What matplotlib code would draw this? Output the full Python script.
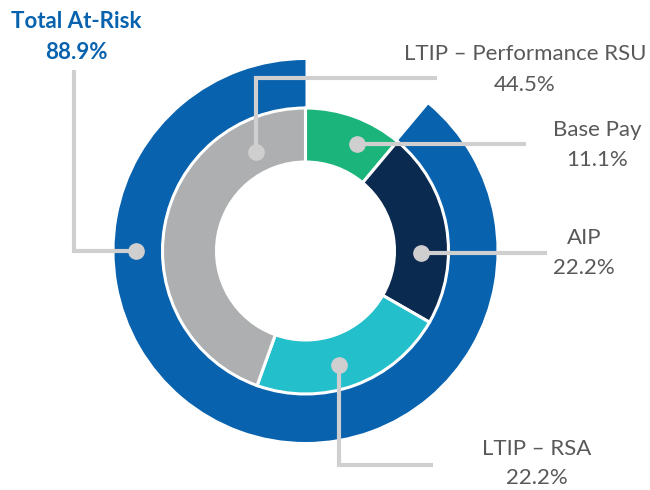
import matplotlib.pyplot as plt
import numpy as np

# data
slices = ['Base Pay', 'AIP', 'LTIP \u2013 RSA', 'LTIP \u2013 Performance RSU']
shares = [11.1, 22.2, 22.2, 44.5]
at_risk_name = 'Total At-Risk'
at_risk = 88.9

inner_colors = ['#1bb47b', '#0b2a50', '#23bfcb', '#aeafb0']
outer_color = '#0862ae'
line_col = '#cfcfcf'
txt_col = '#595959'

plt.rcParams['font.family'] = ['Lato', 'DejaVu Sans']

W, H = 650, 490
fig = plt.figure(figsize=(6.5, 4.9), dpi=100)
ax = fig.add_axes([0, 0, 1, 1])

cx, cy = 305.5, H - 251

# outer ring: at-risk part only (the non-at-risk part is left empty)
ow, _ = ax.pie([100 - at_risk, at_risk], radius=191, center=(cx, cy),
               startangle=90, counterclock=False,
               colors=['none', outer_color],
               wedgeprops=dict(width=48, edgecolor='white', linewidth=0))
ow[0].set_visible(False)

# inner ring
iw, _ = ax.pie(shares, radius=143, center=(cx, cy), startangle=90,
               counterclock=False, colors=inner_colors,
               wedgeprops=dict(width=54, edgecolor='white', linewidth=2.2))

ax.set_xlim(0, W)
ax.set_ylim(0, H)
ax.set_aspect('equal')
ax.axis('off')

# leader lines: list of pixel points (top-left origin), first one is the dot
leaders = [
    [(136, 251), (74, 251), (74, 70)],          # total at-risk
    [(357, 144), (526, 144)],                   # base pay
    [(421, 253), (547, 253)],                   # AIP
    [(339, 365), (339, 465), (433, 465)],       # RSA
    [(256, 152), (256, 78), (437, 78)],         # performance RSU
]
for pts in leaders:
    xs = [p[0] for p in pts]
    ys = [H - p[1] for p in pts]
    ax.plot(xs, ys, color=line_col, lw=3, solid_capstyle='butt',
            solid_joinstyle='miter', zorder=5)
    ax.plot(xs[0], ys[0], 'o', color=line_col, ms=11, zorder=6)

# labels: (x, y of name line, y of value line)
label_pos = [(597, 130, 160), (584, 238, 268), (537, 449, 478), (525, 54, 85)]
for name, val, (x, y1, y2) in zip(slices, shares, label_pos):
    ax.text(x, H - y1, name, ha='center', va='center', fontsize=16, color=txt_col)
    ax.text(x, H - y2, '%.1f%%' % val, ha='center', va='center', fontsize=16,
            color=txt_col)

ax.text(76, H - 22, at_risk_name, ha='center', va='center', fontsize=16,
        color=outer_color, fontweight='bold')
ax.text(76, H - 53, '%.1f%%' % at_risk, ha='center', va='center', fontsize=16,
        color=outer_color, fontweight='bold')

fig.savefig('out.png', dpi=100)
